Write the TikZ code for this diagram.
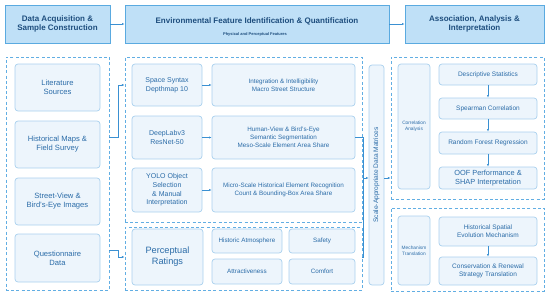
\documentclass[tikz,border=0pt]{standalone}
\usepackage{fontspec}
\setmainfont{Liberation Sans}
\usetikzlibrary{arrows.meta,calc}
\definecolor{hfill}{HTML}{BFE0F7}
\definecolor{hline}{HTML}{5AAAE0}
\definecolor{bfill}{HTML}{EDF5FC}
\definecolor{bline}{HTML}{A9D0EE}
\definecolor{dline}{HTML}{62AEE3}
\definecolor{htext}{HTML}{1E4E7E}
\definecolor{btext}{HTML}{2B6CA8}
\definecolor{aline}{HTML}{3A90D2}
\tikzset{
  hdr/.style={draw=hline, fill=hfill, line width=0.8pt, text=htext, align=center, inner sep=0pt,
    font=\fontsize{8}{9.5}\selectfont\bfseries},
  cont/.style={draw=dline, line width=0.9pt, dash pattern=on 3pt off 2.2pt, inner sep=0pt},
  bx/.style={draw=bline, fill=bfill, line width=0.7pt, rounded corners=3pt, text=btext, align=center, inner sep=0pt,
    font=\fontsize{6.3}{8}\selectfont},
  arr/.style={draw=aline, line width=0.6pt, -{Latex[length=2.6pt,width=2.2pt]}},
  ln/.style={draw=aline, line width=0.6pt},
}
\newcommand{\bxat}[6]{% name, x1, y1, x2, y2, style
  \node[#6, minimum width={#4-#2}, minimum height={#5-#3}] (#1) at ({(#2+#4)/2},{(#3+#5)/2})}
\begin{document}
\begin{tikzpicture}[x=1pt,y=-1pt]
\useasboundingbox (0,0) rectangle (550,297);
% headers
\bxat{h1}{5}{5}{110}{43}{hdr} {Data Acquisition \&\\Sample Construction};
\bxat{h2}{125}{5}{389}{43}{hdr} {};
\node[text=htext, font=\fontsize{8}{9.5}\selectfont\bfseries] (h2t) at (257,21) {Environmental Feature Identification \& Quantification};
\node[text=htext, font=\fontsize{4}{5}\selectfont\bfseries] (h2s) at (255,34) {Physical and Perceptual Features};
\bxat{h3}{405}{5}{544}{43}{hdr} {Association, Analysis \&\\Interpretation};
\draw[arr] (h1.east) -- (h2.west);
\draw[arr] (h2.east) -- (h3.west);
% containers
\bxat{cL}{6}{57}{109}{290}{cont} {};
\bxat{cM1}{125}{57}{362}{222}{cont} {};
\bxat{cM2}{125}{227}{362}{290}{cont} {};
\bxat{cR1}{391}{57}{544}{199}{cont} {};
\bxat{cR2}{391}{208}{544}{291}{cont} {};
% left boxes
\tikzset{lb/.style={bx, font=\fontsize{7.6}{9}\selectfont}}
\bxat{l1}{15}{64}{100}{111}{lb} {Literature\\Sources};
\bxat{l2}{15}{121}{100}{168}{lb} {Historical Maps \&\\Field Survey};
\bxat{l3}{15}{178}{100}{225}{lb} {Street-View \&\\Bird's-Eye Images};
\bxat{l4}{15}{234}{100}{282}{lb} {Questionnaire\\Data};
% middle boxes
\tikzset{mb/.style={bx, font=\fontsize{7}{8.6}\selectfont}}
\bxat{m1a}{132}{64}{202}{106}{mb} {Space Syntax\\Depthmap 10};
\bxat{m1b}{212}{64}{355}{106}{bx} {Integration \& Intelligibility\\Macro Street Structure};
\bxat{m2a}{132}{116}{202}{159}{mb} {DeepLabv3\\ResNet-50};
\bxat{m2b}{212}{116}{355}{159}{bx} {Human-View \& Bird's-Eye\\Semantic Segmentation\\Meso-Scale Element Area Share};
\bxat{m3a}{132}{168}{202}{212}{mb} {YOLO Object\\Selection\\\& Manual\\Interpretation};
\bxat{m3b}{212}{168}{355}{212}{bx} {Micro-Scale Historical Element Recognition\\Count \& Bounding-Box Area Share};
\bxat{pr}{132}{229}{203}{285}{bx, font=\fontsize{9.2}{11}\selectfont} {Perceptual\\Ratings};
\bxat{pa}{212}{229}{282}{253}{bx} {Historic Atmosphere};
\bxat{ps}{289}{229}{355}{253}{bx} {Safety};
\bxat{pt}{212}{259}{282}{284}{bx} {Attractiveness};
\bxat{pc}{289}{259}{355}{284}{bx} {Comfort};
\draw[arr] (m1a.east) -- (m1b.west);
\draw[arr] (m2a.east) -- (m2b.west);
\draw[arr] (m3a.east) -- (m3b.west);
% left to middle
\draw[arr] (cL.east |- m2a.center) -- ++(9,0) |- (cM1.west |- m1a.center);
\draw[arr] ($(cL.east |- l4.center)+(0,-8)$) -- ++(9,0) |- (cM2.west |- pr.center);
% bar
\bxat{bar}{369}{65}{384}{285}{bx} {};
\node[text=btext, font=\fontsize{6.6}{8}\selectfont, rotate=90] (bart) at (bar.center) {Scale-Appropriate Data Matrices};
\coordinate (jm) at (363.5,178);
\draw[ln] (m2b.east) -| (jm);
\draw[ln] (cM2.east |- pr.center) -| (jm);
\draw[arr] (jm) -- (bar.west |- jm);
\draw[arr] (bar.east |- jm) -- (cR1.west |- jm);
% right
\bxat{ca}{398}{64}{430}{189}{bx, font=\fontsize{4.8}{6}\selectfont} {Correlation\\Analysis};
\bxat{r1}{439}{64}{537}{85}{bx, font=\fontsize{6.5}{8}\selectfont} {Descriptive Statistics};
\bxat{r2}{439}{98}{537}{119}{bx, font=\fontsize{6.5}{8}\selectfont} {Spearman Correlation};
\bxat{r3}{439}{132}{537}{154}{bx, font=\fontsize{6.5}{8}\selectfont} {Random Forest Regression};
\bxat{r4}{439}{167}{537}{189}{bx, font=\fontsize{7.4}{8.2}\selectfont} {OOF Performance \&\\SHAP Interpretation};
\bxat{mt}{398}{216}{430}{285}{bx, font=\fontsize{4.8}{6}\selectfont} {Mechanism\\Translation};
\bxat{r5}{439}{217}{537}{246}{bx, font=\fontsize{6.5}{8}\selectfont} {Historical Spatial\\Evolution Mechanism};
\bxat{r6}{439}{257}{537}{285}{bx, font=\fontsize{6.5}{8}\selectfont} {Conservation \& Renewal\\Strategy Translation};
\draw[arr] (r1.south) -- (r2.north);
\draw[arr] (r2.south) -- (r3.north);
\draw[arr] (r3.south) -- (r4.north);
\draw[arr] (r5.south) -- (r6.north);
\end{tikzpicture}
\end{document}
